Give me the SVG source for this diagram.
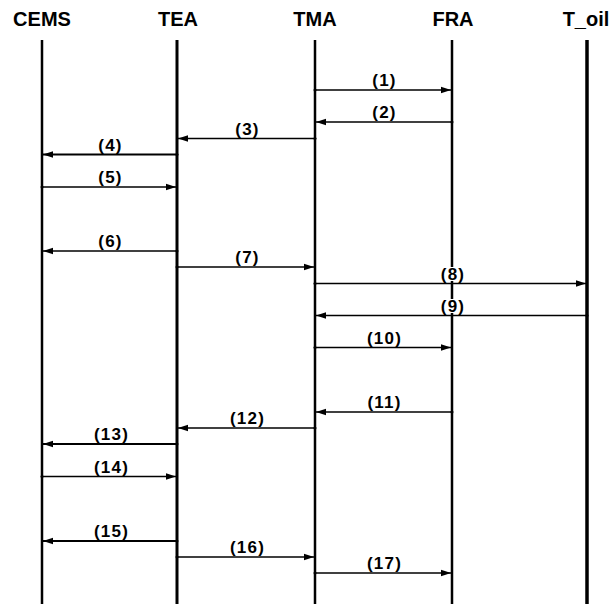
<svg xmlns="http://www.w3.org/2000/svg" width="611" height="604" viewBox="0 0 611 604">
<style>
.hdr{font-family:"Liberation Sans",Arial,sans-serif;font-weight:bold;font-size:20px;text-anchor:middle;fill:#000}
.lbl{font-family:"Liberation Sans",Arial,sans-serif;font-weight:bold;font-size:17px;letter-spacing:1.2px;text-anchor:middle;fill:#000}
.life{stroke:#000;stroke-width:2.5;fill:none}
.msg{stroke:#000;stroke-width:1.6;fill:none;marker-end:url(#ah);marker-start:url(#dot)}
.mask{fill:#fff}
</style>
<defs>
<marker id="ah" markerUnits="userSpaceOnUse" markerWidth="10" markerHeight="8" viewBox="0 0 10 8" refX="10" refY="4" orient="auto">
<path d="M0,0.8 L10,4 L0,7.2 Z" fill="#000"/>
</marker>
<marker id="dot" markerUnits="userSpaceOnUse" markerWidth="4" markerHeight="4" viewBox="0 0 4 4" refX="2" refY="2" orient="auto">
<circle cx="2" cy="2" r="1.5" fill="#000"/>
</marker>
</defs>
<rect width="611" height="604" fill="#fff"/>
<g id="CEMS"><text class="hdr" x="42" y="26">CEMS</text><line class="life" x1="42" y1="40" x2="42" y2="604"/></g>
<g id="TEA"><text class="hdr" x="178" y="26">TEA</text><line class="life" x1="177" y1="40" x2="177" y2="604" style="stroke-width:3"/></g>
<g id="TMA"><text class="hdr" x="315" y="26">TMA</text><line class="life" x1="315" y1="40" x2="315" y2="604"/></g>
<g id="FRA"><text class="hdr" x="453" y="26">FRA</text><line class="life" x1="452" y1="40" x2="452" y2="604"/></g>
<g id="T_oil"><text class="hdr" x="586" y="26">T_oil</text><line class="life" x1="587" y1="40" x2="587" y2="604" style="stroke-width:3.5"/></g>
<g id="connectors">
<line class="msg" x1="315" y1="90" x2="451" y2="90"/><text class="lbl" x="384.5" y="86">(1)</text>
<line class="msg" x1="452" y1="122" x2="316" y2="122"/><text class="lbl" x="384.5" y="118">(2)</text>
<line class="msg" x1="315" y1="138.5" x2="178" y2="138.5"/><text class="lbl" x="247.5" y="134.5">(3)</text>
<line class="msg" x1="177" y1="154.5" x2="43" y2="154.5" style="stroke-width:2"/><text class="lbl" x="110.5" y="150.5">(4)</text>
<line class="msg" x1="42" y1="187" x2="176" y2="187"/><text class="lbl" x="110.5" y="183">(5)</text>
<line class="msg" x1="177" y1="251" x2="43" y2="251"/><text class="lbl" x="110.5" y="247">(6)</text>
<line class="msg" x1="177" y1="267" x2="314" y2="267"/><text class="lbl" x="247.5" y="263">(7)</text>
<rect class="mask" x="441" y="267" width="24" height="14"/>
<line class="msg" x1="315" y1="283.5" x2="586" y2="283.5"/><text class="lbl" x="453" y="279.5">(8)</text>
<rect class="mask" x="441" y="299" width="24" height="14"/>
<line class="msg" x1="587" y1="315.5" x2="316" y2="315.5"/><text class="lbl" x="453" y="311.5">(9)</text>
<line class="msg" x1="315" y1="347.5" x2="451" y2="347.5"/><text class="lbl" x="384.5" y="343.5">(10)</text>
<line class="msg" x1="452" y1="412" x2="316" y2="412"/><text class="lbl" x="384.5" y="408">(11)</text>
<line class="msg" x1="315" y1="428" x2="178" y2="428"/><text class="lbl" x="247.5" y="424">(12)</text>
<line class="msg" x1="177" y1="444" x2="43" y2="444" style="stroke-width:2.2"/><text class="lbl" x="111.5" y="440">(13)</text>
<line class="msg" x1="42" y1="476.5" x2="176" y2="476.5"/><text class="lbl" x="111.5" y="472.5">(14)</text>
<line class="msg" x1="177" y1="541" x2="43" y2="541" style="stroke-width:2"/><text class="lbl" x="111.5" y="537">(15)</text>
<line class="msg" x1="177" y1="557" x2="314" y2="557"/><text class="lbl" x="247.5" y="553">(16)</text>
<line class="msg" x1="315" y1="573" x2="451" y2="573"/><text class="lbl" x="384.5" y="569">(17)</text>
</g>
</svg>
